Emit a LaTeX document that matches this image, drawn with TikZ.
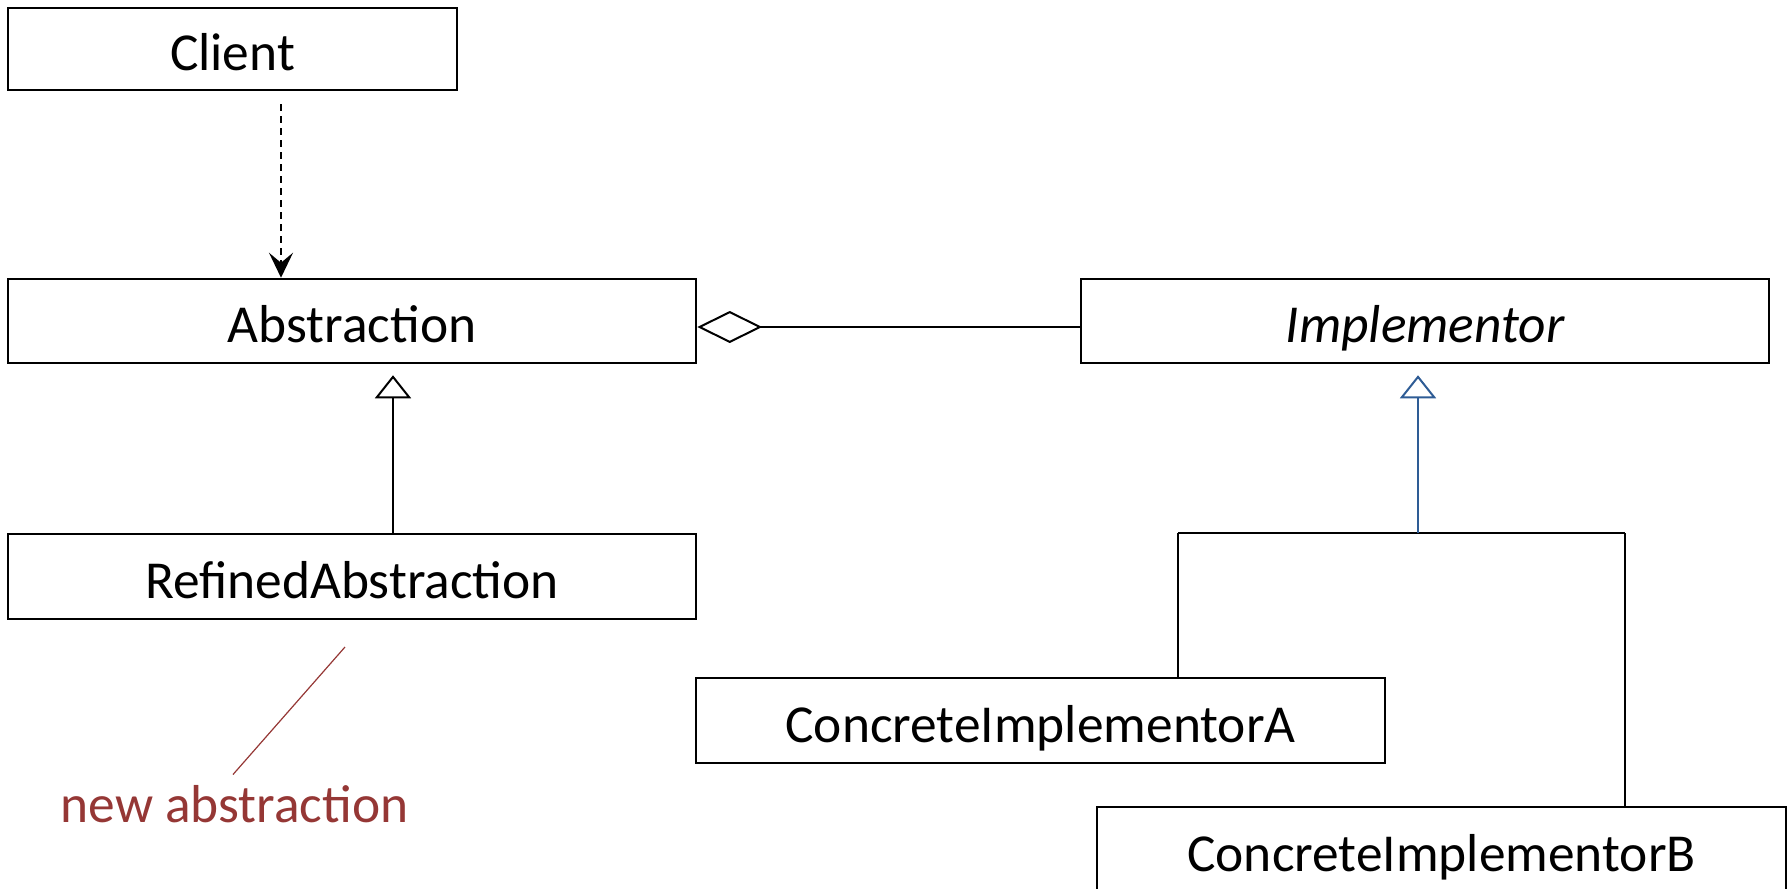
\documentclass[tikz,border=0pt]{standalone}
\usepackage{fontspec}
\setmainfont{Carlito}
\usetikzlibrary{arrows.meta}
\definecolor{notered}{RGB}{149,55,53}
\definecolor{genblue}{RGB}{46,92,149}
\newcommand{\diagramfont}{\fontsize{26.7pt}{31pt}\selectfont}
\tikzset{
  classbox/.style={draw, line width=1.25pt, inner sep=0pt,
    text height=21.5pt, text depth=0pt, font=\diagramfont},
  link/.style={line width=1pt},
  thinlink/.style={line width=0.6pt},
  depends/.style={link, dashed, dash pattern=on 3.5pt off 2.5pt,
    -{Stealth[length=12.5pt, width=12pt, inset=5pt]}, shorten <=6.5pt},
  generalize/.style={link, -{Triangle[open, length=11.5pt, width=18pt]},
    shorten >=5.5pt},
  aggregate/.style={link, {Diamond[open, length=32.5pt, width=16pt]}-},
}
\begin{document}
\begin{tikzpicture}[x=0.5pt, y=-0.5pt]
  \useasboundingbox (0,0) rectangle (1791,888);

  % classes
  \node[classbox, minimum width=224.5pt, minimum height=41pt] (client) at (232.5,49) {Client};
  \node[classbox, minimum width=344pt, minimum height=42pt] (abs) at (352,321) {Abstraction};
  \node[classbox, minimum width=344pt, minimum height=42pt] (impl) at (1425,321) {\itshape Implementor};
  \node[classbox, minimum width=344pt, minimum height=42.5pt] (refined) at (352,576.5) {RefinedAbstraction};
  \node[classbox, minimum width=344.5pt, minimum height=42.5pt] (conA) at (1040.5,720.5) {ConcreteImplementorA};
  \node[classbox, minimum width=344.5pt, minimum height=42.5pt] (conB) at (1441.5,849.5) {ConcreteImplementorB};

  % client depends on abstraction
  \coordinate (dep) at ([xshift=24.25pt]client.south);
  \draw[depends] (dep) -- (dep |- abs.north);

  % abstraction aggregates implementor
  \draw[aggregate] ([yshift=-3pt]abs.east) -- ([yshift=-3pt]impl.west);

  % refined abstraction generalizes abstraction
  \coordinate (refup) at ([xshift=20.5pt]refined.north);
  \draw[generalize] (refup) -- (refup |- abs.south);

  % concrete implementors share one generalization bus
  \coordinate (busL) at (1178,533);
  \coordinate (busM) at (1418,533);
  \coordinate (busR) at (1625,533);
  \draw[link] (busL) -- (busR);
  \draw[thinlink] (busL) -- (busL |- conA.north);
  \draw[thinlink] (busR) -- (busR |- conB.north);
  \draw[generalize, draw=genblue] (busM) -- (busM |- impl.south);

  % annotation
  \node[anchor=base, inner sep=0pt, text=notered, font=\diagramfont]
    (note) at (234.5,822) {new abstraction};
  \coordinate (ptr) at (345,647);
  \draw[notered, line width=0.6pt] (ptr) -- ([xshift=-0.75pt, yshift=5pt]note.north);
\end{tikzpicture}
\end{document}
